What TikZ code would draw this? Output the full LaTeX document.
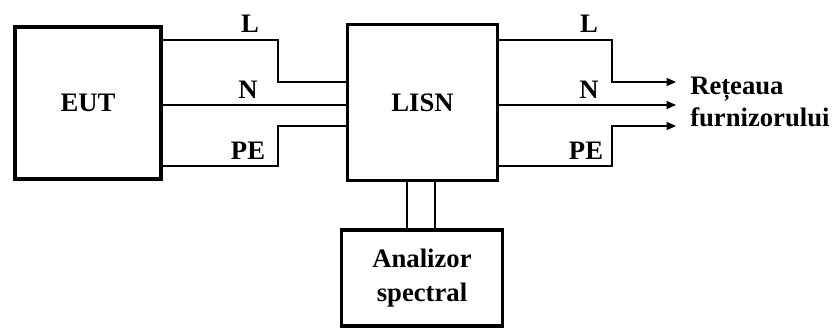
\documentclass[tikz,border=0pt]{standalone}
\usepackage{fontspec}
\setmainfont{Liberation Serif}
\usetikzlibrary{arrows.meta}
\begin{document}
\begin{tikzpicture}[x=0.75pt,y=-0.75pt,
  box/.style={draw,line width=2.4pt,rectangle,inner sep=0pt,align=center,font=\fontsize{20}{26}\selectfont\bfseries},
  wire/.style={line width=1.1pt},
  lbl/.style={inner sep=0pt,font=\fontsize{20}{24}\selectfont\bfseries},
  arr/.style={wire,-{Triangle[length=7pt,width=6pt]}}]
\useasboundingbox (0,0) rectangle (833,329);
\node[box,minimum width=146pt*0.75,minimum height=152pt*0.75] (eut) at (88,103) {EUT};
\node[box,minimum width=150pt*0.75,minimum height=156pt*0.75] (lisn) at (422.5,102.5) {LISN};
\node[box,minimum width=161pt*0.75,minimum height=96pt*0.75] (an) at (422,278) {Analizor\\spectral};
\coordinate (b1) at (278,82);
\coordinate (b2) at (278,126);
\coordinate (b3) at (612,82);
\coordinate (b4) at (612,126);
\coordinate (e1) at (676,82);
\coordinate (e2) at (676,105);
\coordinate (e3) at (676,126);
% left wires
\draw[wire] (eut.east |- 0,40) -| (b1) -- (lisn.west |- b1);
\draw[wire] (eut.east |- 0,105) -- (lisn.west |- 0,105);
\draw[wire] (eut.east |- 0,166) -| (b2) -- (lisn.west |- b2);
% right wires
\draw[arr] (lisn.east |- 0,40) -| (b3) -- (e1);
\draw[arr] (lisn.east |- 0,105) -- (e2);
\draw[arr] (lisn.east |- 0,166) -| (b4) -- (e3);
% analyzer
\draw[wire] (lisn.south -| 407,0) -- (an.north -| 407,0);
\draw[wire] (lisn.south -| 435,0) -- (an.north -| 435,0);
% labels
\node[lbl] (l1) at (250,24) {L};
\node[lbl] (n1) at (248,90) {N};
\node[lbl] (p1) at (248,151) {PE};
\node[lbl] (l2) at (589,24) {L};
\node[lbl] (n2) at (589,90) {N};
\node[lbl] (p2) at (586,151) {PE};
\node[lbl,anchor=west,align=left] (net) at (690,102) {Rețeaua\\furnizorului};
\end{tikzpicture}
\end{document}
